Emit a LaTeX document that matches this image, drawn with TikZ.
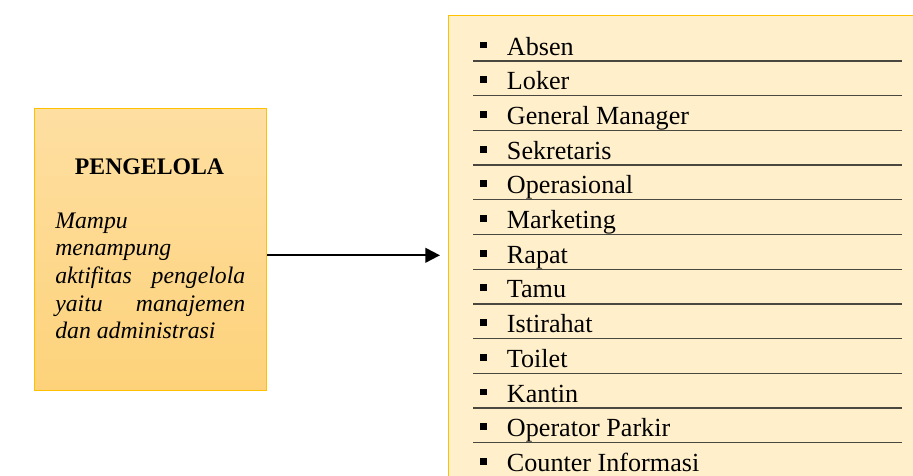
\documentclass[tikz,border=0pt]{standalone}
\usepackage{fontspec}
\setmainfont{Liberation Serif}
\usetikzlibrary{arrows.meta}

\definecolor{goldline}{HTML}{FFC000}
\definecolor{boxtop}{HTML}{FEDFA2}
\definecolor{boxbot}{HTML}{FDD27A}
\definecolor{listfill}{HTML}{FFF0CB}
\definecolor{rulecol}{HTML}{4A4640}

\tikzset{
  panel/.style={draw=goldline, line width=0.9pt, inner sep=0pt, anchor=north west},
  txt/.style={inner sep=0pt, anchor=base west},
  bulletsq/.style={fill=black, inner sep=0pt, minimum size=5.2pt},
  sepline/.style={draw=rulecol, line width=1pt},
  flow/.style={line width=1.5pt, -{Triangle[length=11pt,width=11pt]}, shorten >=6pt}
}

\begin{document}
\begin{tikzpicture}[x=0.75pt,y=-0.75pt]
\useasboundingbox (0,0) rectangle (913,475);
\clip (0,0) rectangle (913,475);

% left panel with the description of the management area
\node[panel, top color=boxtop, bottom color=boxbot,
      minimum width=174pt, minimum height=211.5pt] (pengelola) at (34,108) {};
\node[inner sep=0pt, anchor=base] (judul) at (149.5,174)
  {\fontsize{17.8}{20}\selectfont\bfseries PENGELOLA};
\begin{scope}[every node/.style={txt}, font=\fontsize{17.8}{20}\selectfont\itshape]
  \node (d1) at (55,228)   {Mampu};
  \node (d2) at (55,255.7) {menampung};
  \node (d3) at (55,283.4) {\makebox[142.5pt][s]{aktifitas pengelola}};
  \node (d4) at (55,311.1) {\makebox[142.5pt][s]{yaitu manajemen}};
  \node (d5) at (55,338.8) {dan administrasi};
\end{scope}

% right panel listing the rooms
\node[panel, fill=listfill, minimum width=375pt, minimum height=360pt] (list) at (448,14.7) {};

\foreach \item [count=\i from 0] in {Absen, Loker, General Manager, Sekretaris,
    Operasional, Marketing, Rapat, Tamu, Istirahat, Toilet, Kantin,
    Operator Parkir, Counter Informasi} {
  \pgfmathsetmacro{\yb}{55+34.7*\i}
  \node[bulletsq] (b\i) at (483.7,\yb-10) {};
  \node[txt, font=\fontsize{19.6}{22}\selectfont] (t\i) at (506.7,\yb) {\item};
}
\foreach \i in {0,...,11} {
  \pgfmathsetmacro{\ys}{61+34.7*\i}
  \coordinate (sl\i) at (473,\ys);
  \coordinate (sr\i) at (902,\ys);
  \draw[sepline] (sl\i) -- (sr\i);
}

% connector
\draw[flow] (pengelola.east |- list.west) -- (list.west);
\end{tikzpicture}
\end{document}
